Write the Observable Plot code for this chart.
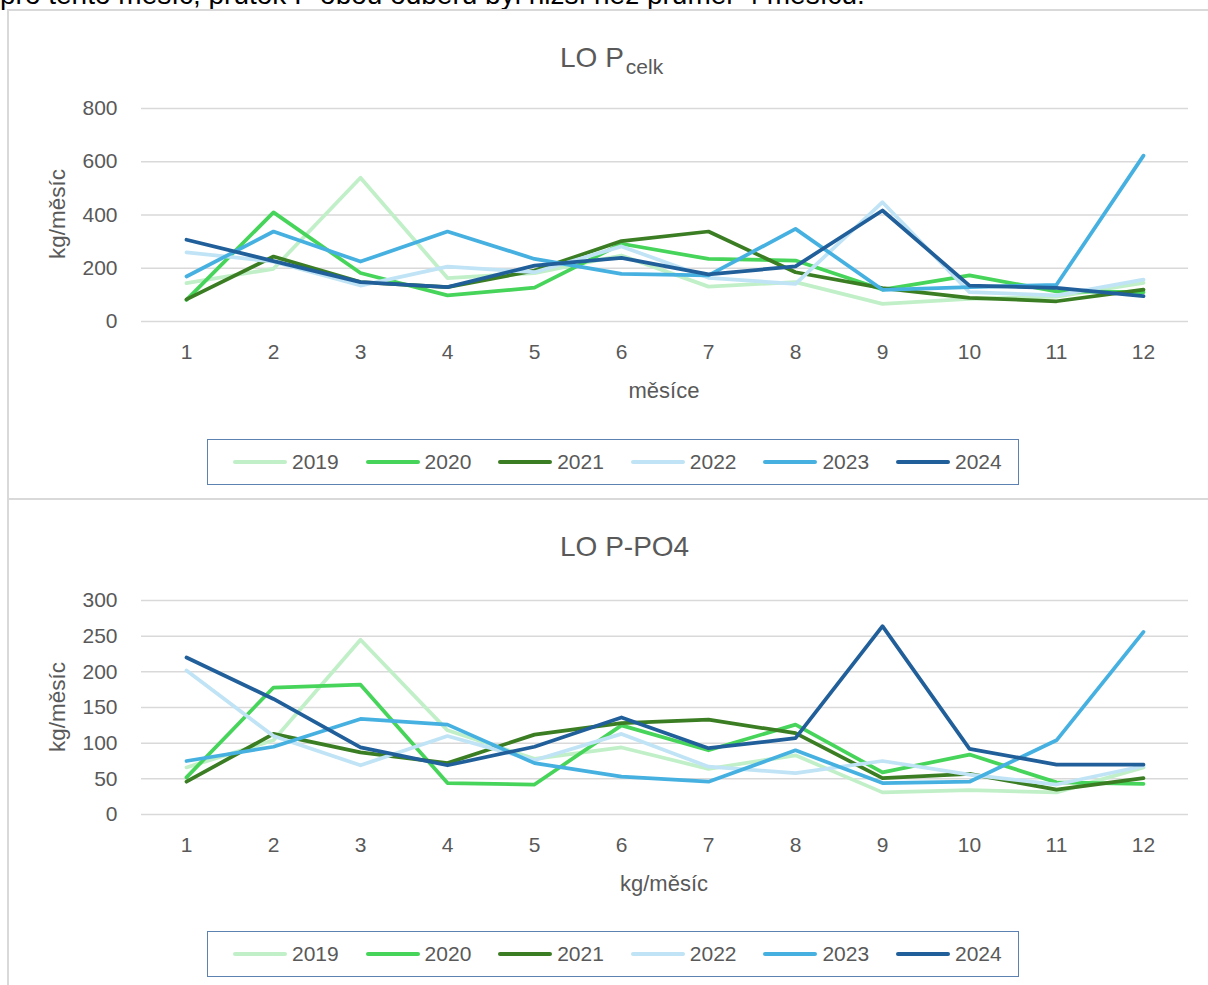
<!DOCTYPE html>
<html>
<head>
<meta charset="utf-8">
<script src="https://cdn.jsdelivr.net/npm/d3@7"></script>
<script src="https://cdn.jsdelivr.net/npm/@observablehq/plot@0.6"></script>
<style>
  html, body { margin: 0; padding: 0; background: #fff; overflow: hidden; }
  body { width: 1208px; height: 985px; position: relative; font-family: "Liberation Sans", Arial, sans-serif; }
  .abs { position: absolute; }
  .box { position: absolute; border: 2px solid #d9d9d9; box-sizing: border-box; }
  .title { position: absolute; left: 560px; font-size: 28px; line-height: 28px; color: #595959; white-space: nowrap; }
  .title span { font-size: 21px; position: relative; top: 7px; margin-left: 2px; }
  .xlab { position: absolute; transform: translateX(-50%); font-size: 22px; line-height: 22px; color: #595959; white-space: nowrap; }
  .ylab { position: absolute; transform: translate(-50%, -50%) rotate(-90deg); font-size: 22.5px; line-height: 22px; color: #595959; white-space: nowrap; }
  .legend { position: absolute; left: 207px; width: 812px; height: 46px; border: 1.5px solid #5b82b0; box-sizing: border-box; }
  .item { position: absolute; top: 0; height: 43px; display: flex; align-items: center; font-size: 21px; color: #595959; }
  .sw { width: 54px; height: 4px; border-radius: 2px; margin-right: 5px; }
  .plot { position: absolute; left: 0; }
</style>
</head>
<body>
<script>
const months = [1, 2, 3, 4, 5, 6, 7, 8, 9, 10, 11, 12];
const years = ["2019", "2020", "2021", "2022", "2023", "2024"];
const colors = ["#c1f0c8", "#47d45a", "#3b7d23", "#c0e4f5", "#46b1e1", "#215f9a"];

// LO P celk (kg/měsíc)
const pcelk2019 = [144, 198, 540, 163, 182, 248, 131, 148, 66, 85, 93, 145];
const pcelk2020 = [81, 410, 182, 98, 127, 292, 235, 229, 120, 173, 113, 110];
const pcelk2021 = [83, 244, 148, 129, 191, 302, 338, 185, 125, 89, 76, 120];
const pcelk2022 = [260, 225, 135, 206, 185, 282, 164, 141, 448, 110, 98, 157];
const pcelk2023 = [169, 338, 225, 338, 235, 179, 173, 348, 119, 129, 138, 623];
const pcelk2024 = [307, 227, 148, 129, 210, 239, 177, 207, 417, 135, 126, 95];

// LO P-PO4 (kg/měsíc)
const ppo42019 = [66, 104, 245, 118, 78, 94, 64, 83, 31, 34, 31, 66];
const ppo42020 = [52, 178, 182, 44, 42, 125, 90, 126, 59, 84, 45, 43];
const ppo42021 = [46, 113, 87, 72, 112, 128, 133, 114, 51, 57, 35, 51];
const ppo42022 = [202, 110, 69, 110, 76, 113, 67, 58, 75, 56, 42, 68];
const ppo42023 = [75, 95, 134, 126, 72, 53, 46, 90, 44, 46, 104, 256];
const ppo42024 = [220, 162, 94, 69, 95, 136, 93, 107, 264, 92, 70, 70];

const ticksTop = [0, 200, 400, 600, 800];
const ticksBottom = [0, 50, 100, 150, 200, 250, 300];

const introText = "pro tento měsíc, průtok P obou odběrů byl nižší než průměr 4 měsíců.";
const title1 = "LO P";
const title1sub = "celk";
const title2 = "LO P-PO4";
const yLabel = "kg/měsíc";
const xLabel1 = "měsíce";
const xLabel2 = "kg/měsíc";

function el(tag, cls, css, text) {
  const e = document.createElement(tag);
  if (cls) e.className = cls;
  if (css) Object.assign(e.style, css);
  if (text != null) e.textContent = text;
  document.body.appendChild(e);
  return e;
}

function makePlot(series, yMax, yTicks, marginTop, marginBottom, tickPad) {
  const data = [];
  years.forEach((yr, i) => series[i].forEach((v, j) => data.push({month: months[j], value: v, year: yr})));
  return Plot.plot({
    width: 1208,
    height: 340,
    marginLeft: 141,
    marginRight: 20,
    marginTop,
    marginBottom,
    x: {type: "point", domain: months, padding: 0.5, label: null, tickSize: 0, tickPadding: tickPad},
    y: {domain: [0, yMax], ticks: yTicks, label: null, tickSize: 0, tickPadding: 24},
    color: {domain: years, range: colors},
    style: {fontFamily: "'Liberation Sans', Arial, sans-serif", fontSize: "21px", color: "#595959", background: "transparent", overflow: "visible"},
    marks: [
      Plot.ruleY(yTicks, {stroke: "#d9d9d9", strokeWidth: 1.5}),
      Plot.line(data, {x: "month", y: "value", z: "year", stroke: "year", strokeWidth: 3.75, strokeLinejoin: "round", strokeLinecap: "round"})
    ]
  });
}

function legend(top) {
  const lg = el("div", "legend", {top: top + "px"});
  years.forEach((yr, i) => {
    const it = document.createElement("div");
    it.className = "item";
    it.style.left = (25 + i * 132.6) + "px";
    const sw = document.createElement("div");
    sw.className = "sw";
    sw.style.background = colors[i];
    it.appendChild(sw);
    const t = document.createElement("span");
    t.textContent = yr;
    it.appendChild(t);
    lg.appendChild(it);
  });
}

// intro text (cut at the top edge, as in the source)
el("div", "abs", {left: "0px", top: "-19px", fontSize: "28px", lineHeight: "28px", color: "#000", whiteSpace: "nowrap"}, introText);

// boxes
el("div", "box", {left: "7px", top: "9px", width: "1230px", height: "491px"});
el("div", "box", {left: "7px", top: "498px", width: "1230px", height: "520px"});

// chart 1
const t1 = el("div", "title", {top: "44px"}, title1);
const sub = document.createElement("span");
sub.textContent = title1sub;
t1.appendChild(sub);
const p1 = makePlot([pcelk2019, pcelk2020, pcelk2021, pcelk2022, pcelk2023, pcelk2024], 800, ticksTop, 28, 99, 23);
p1.classList.add("plot");
p1.style.top = "80px";
document.body.appendChild(p1);
el("div", "ylab", {left: "58px", top: "214px"}, yLabel);
el("div", "xlab", {left: "664px", top: "380px"}, xLabel1);
legend(439);

// chart 2
el("div", "title", {top: "533px"}, title2);
const p2 = makePlot([ppo42019, ppo42020, ppo42021, ppo42022, ppo42023, ppo42024], 300, ticksBottom, 30, 96, 23);
p2.classList.add("plot");
p2.style.top = "570px";
document.body.appendChild(p2);
el("div", "ylab", {left: "58px", top: "707px"}, yLabel);
el("div", "xlab", {left: "664px", top: "873px"}, xLabel2);
legend(931);
</script>
</body>
</html>
